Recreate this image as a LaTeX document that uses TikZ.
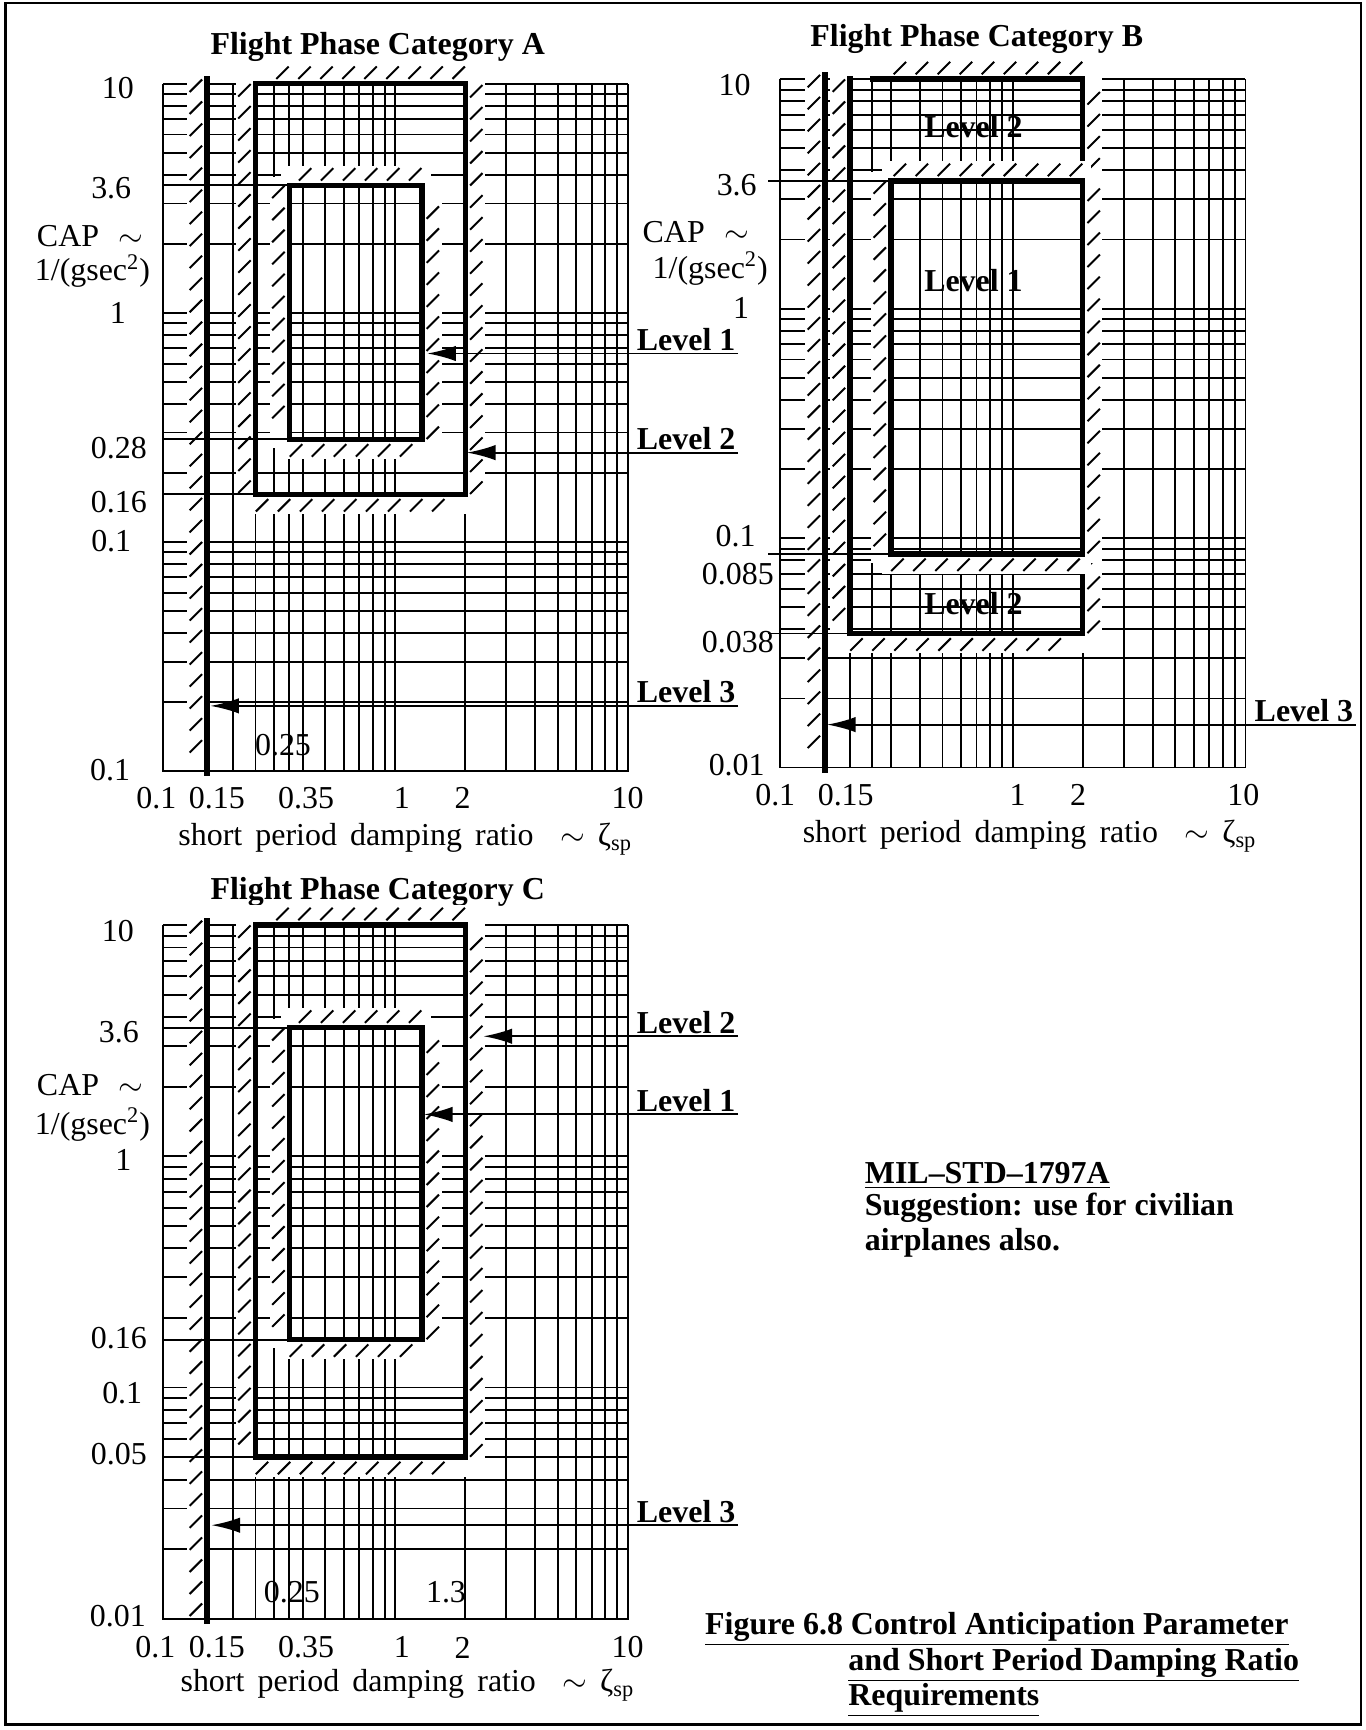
\documentclass[tikz,border=0pt]{standalone}
\usepackage{fontspec}
\setmainfont{Liberation Serif}
\usetikzlibrary{arrows.meta,decorations.markings}

% log axes: zeta from 0.1, CAP from 0.01, one unit per decade
\tikzset{
  declare function={zx(\z)=log10(\z)+1; cy(\c)=log10(\c)+2;},
  gridline/.style={line width=0.85pt},
  bound/.style={line width=2.5pt, line cap=rect},
  hatchmark/.style={line width=0.9pt},
  % white strip plus small slashes on one side of a boundary
  hatchside/.style 2 args={
    preaction={draw=white, line width=8pt, line cap=rect,
      transform canvas={xshift=#1, yshift=#2}},
    postaction={decorate, decoration={markings,
      mark=between positions 3pt and -3pt step 10pt with {
        \pgftransformresetnontranslations
        \draw[hatchmark] (#1,#2) ++(-2.5pt,-2.5pt) -- ++(5pt,5pt);}}}},
  hl/.style={hatchside={-5pt}{0pt}},
  hr/.style={hatchside={5pt}{0pt}},
  ha/.style={hatchside={0pt}{5pt}},
  hb/.style={hatchside={0pt}{-5pt}},
  lab/.style={font=\fontsize{14.5}{17}\selectfont, inner sep=1pt},
  ttl/.style={font=\fontsize{14.5}{17}\selectfont\bfseries, inner sep=1pt},
  lvl/.style={font=\fontsize{14.5}{17}\selectfont\bfseries, inner sep=1pt, anchor=south west},
  lvlarrow/.style={line width=0.9pt, -{Latex[length=13pt,width=7pt]}},
}

% graph paper of one chart, #1 = zeta values with a vertical line
\newcommand{\papergrid}[1]{%
  \foreach \k in {0,1,2}{
    \foreach \d in {1,...,9}{
      \draw[gridline] (0,{\k+log10(\d)}) -- (2,{\k+log10(\d)});
    }
  }
  \draw[gridline] (0,3) -- (2,3);
  \foreach \z in {#1}{
    \draw[gridline] ({zx(\z)},0) -- ({zx(\z)},3);
  }
}

% boundary box hatched on the outside: zeta lo, zeta hi, cap lo, cap hi
\newcommand{\levelbox}[4]{%
  \draw[bound,hl] ({#1},{#4}) -- ({#1},{#3});
  \draw[bound,hb] ({#1},{#3}) -- ({#2},{#3});
  \draw[bound,hr] ({#2},{#3}) -- ({#2},{#4});
  \draw[bound,ha] ({#2},{#4}) -- ({#1},{#4});
}

\newcommand{\xtitle}{\makebox[206pt][s]{short period damping ratio \ $\sim$\ ζ\textsubscript{sp}}}
\newcommand{\captitle}{CAP\hspace{9pt}$\sim$}
\newcommand{\capunit}{1/(gsec\textsuperscript{2})}

\begin{document}
\begin{tikzpicture}[x=0.5pt, y=-0.5pt]
\useasboundingbox (0,0) rectangle (1240,1571);
\draw[line width=1pt] (5,3) rectangle (1236,1566);

% ---------------- Flight Phase Category A ----------------
\node[ttl] (ttlA) at (343,43) {Flight Phase Category A};
\begin{scope}[shift={(148,700)}, x=105.5pt, y=104pt]
  \papergrid{0.1,0.2,0.25,0.3,0.35,0.4,0.5,0.6,0.7,0.8,0.9,1,2,3,4,5,6,7,8,9,10}
  % Level 3
  \draw[bound,hl] ({zx(0.153)},3.02) -- ({zx(0.153)},-0.01);
  % Level 2 and Level 1
  \levelbox{zx(0.25)}{zx(2)}{cy(0.16)}{3}
  \levelbox{zx(0.35)}{zx(1.3)}{cy(0.28)}{cy(3.6)}
  \foreach \c/\z in {3.6/0.35, 0.28/0.35, 0.16/0.25}
    \draw[gridline] (0,{cy(\c)}) -- ({zx(\z)},{cy(\c)});
  \draw[gridline] (0,3) -- (0,0) -- (2,0) -- (2,3);
\end{scope}
\foreach \lbl/\x/\y [count=\i] in {10/107/80, 3.6/101/171, 1/107/284, 0.28/108/407,
    0.16/108/456, 0.1/101/491, 0.1/100/699}
  \node[lab] (yA\i) at (\x,\y) {\lbl};
\foreach \lbl/\x [count=\i] in {0.1/142, 0.15/197, 0.35/278, 1/365, 2/420, 10/570}
  \node[lab] (xA\i) at (\x,725) {\lbl};
\node[lab] (capA) at (82,214) {\captitle};
\node[lab] (unitA) at (84,246) {\capunit};
\node[lab] (zA) at (257,677) {0.25};
\node[lab] (xlabA) at (368,762) {\xtitle};
\node[lvl] (lvA1) at (576,321) {Level 1};
\node[lvl] (lvA2) at (576,411) {Level 2};
\node[lvl] (lvA3) at (576,641) {Level 3};
\coordinate (tipA1) at (388,321);
\coordinate (tipA2) at (424,411);
\coordinate (tipA3) at (191,641);
\foreach \n in {1,2,3}
  \draw[lvlarrow] (lvA\n.south east) -- (lvA\n.south west) -- (tipA\n);

% ---------------- Flight Phase Category B ----------------
\node[ttl] (ttlB) at (887,35) {Flight Phase Category B};
\begin{scope}[shift={(708,697)}, x=105.75pt, y=104.2pt]
  \papergrid{0.1,0.2,0.25,0.3,0.4,0.5,0.6,0.7,0.8,0.9,1,2,3,4,5,6,7,8,9,10}
  % Level 3
  \draw[bound,hl] ({zx(0.155)},3.02) -- ({zx(0.155)},-0.01);
  % Level 2, open at the top left corner
  \draw[bound,hl] ({zx(0.2)},3) -- ({zx(0.2)},{cy(0.038)});
  \draw[bound,hb] ({zx(0.2)},{cy(0.038)}) -- ({zx(2)},{cy(0.038)});
  \draw[bound,hr] ({zx(2)},{cy(0.038)}) -- ({zx(2)},3);
  \draw[bound,ha] ({zx(2)},3) -- ({zx(0.25)},3);
  % Level 1
  \levelbox{zx(0.3)}{zx(2)}{cy(0.085)}{cy(3.6)}
  \foreach \c/\z in {3.6/0.3, 0.085/0.3, 0.038/0.2}
    \draw[gridline] (-0.05,{cy(\c)}) -- ({zx(\z)},{cy(\c)});
  \draw[gridline] (0,3) -- (0,0) -- (2,0) -- (2,3);
\end{scope}
\foreach \lbl/\x/\y [count=\i] in {10/667/77, 3.6/669/168, 1/673/280, 0.1/668/487,
    0.085/670/521, 0.038/670/583, 0.01/669/695}
  \node[lab] (yB\i) at (\x,\y) {\lbl};
\foreach \lbl/\x [count=\i] in {0.1/704, 0.15/768, 1/924, 2/979, 10/1129}
  \node[lab] (xB\i) at (\x,722) {\lbl};
\node[lab] (capB) at (632,211) {\captitle};
\node[lab] (unitB) at (645,244) {\capunit};
\node[lab] (xlabB) at (935,759) {\xtitle};
\node[ttl] (inB1) at (884,115) {Level 2};
\node[ttl] (inB2) at (884,255) {Level 1};
\node[ttl] (inB3) at (884,548) {Level 2};
\node[lvl] (lvB3) at (1137,658) {Level 3};
\coordinate (tipB3) at (751,658);
\draw[lvlarrow] (lvB3.south east) -- (lvB3.south west) -- (tipB3);

% ---------------- Flight Phase Category C ----------------
\node[ttl] (ttlC) at (343,810) {Flight Phase Category C};
\begin{scope}[shift={(148,1470)}, x=105.5pt, y=105pt]
  \papergrid{0.1,0.2,0.25,0.3,0.35,0.4,0.5,0.6,0.7,0.8,0.9,1,2,3,4,5,6,7,8,9,10}
  % Level 3
  \draw[bound,hl] ({zx(0.153)},3.02) -- ({zx(0.153)},-0.01);
  % Level 2 and Level 1
  \levelbox{zx(0.25)}{zx(2)}{cy(0.05)}{3}
  \levelbox{zx(0.35)}{zx(1.3)}{cy(0.16)}{cy(3.6)}
  \foreach \c/\z in {3.6/0.35, 0.16/0.35, 0.05/0.25}
    \draw[gridline] (0,{cy(\c)}) -- ({zx(\z)},{cy(\c)});
  \draw[gridline] (0,3) -- (0,0) -- (2,0) -- (2,3);
\end{scope}
\foreach \lbl/\x/\y [count=\i] in {10/107/845, 3.6/108/937, 1/112/1053, 0.16/108/1215,
    0.1/111/1265, 0.05/108/1320, 0.01/107/1468}
  \node[lab] (yC\i) at (\x,\y) {\lbl};
\foreach \lbl/\x [count=\i] in {0.1/141, 0.15/197, 0.35/278, 1/365, 2/420, 10/570}
  \node[lab] (xC\i) at (\x,1496) {\lbl};
\node[lab] (capC) at (82,985) {\captitle};
\node[lab] (unitC) at (84,1021) {\capunit};
\node[lab] (zC1) at (265,1446) {0.25};
\node[lab] (zC2) at (405,1446) {1.3};
\node[lab] (xlabC) at (370,1530) {\xtitle};
\node[lvl] (lvC2) at (576,941) {Level 2};
\node[lvl] (lvC1) at (576,1012) {Level 1};
\node[lvl] (lvC3) at (576,1385) {Level 3};
\coordinate (tipC2) at (439,941);
\coordinate (tipC1) at (385,1012);
\coordinate (tipC3) at (192,1385);
\foreach \n in {1,2,3}
  \draw[lvlarrow] (lvC\n.south east) -- (lvC\n.south west) -- (tipC\n);

% ---------------- notes ----------------
\node[ttl, anchor=base west] (mil) at (783,1075) {\underline{MIL–STD–1797A}};
\node[ttl, anchor=base west] (sug1) at (783,1104) {Suggestion: use for civilian};
\node[ttl, anchor=base west] (sug2) at (783,1136) {airplanes also.};
\node[ttl, anchor=base west] (fig1) at (638,1484) {\underline{Figure 6.8 Control Anticipation Parameter}};
\node[ttl, anchor=base west] (fig2) at (768,1517) {\underline{and Short Period Damping Ratio}};
\node[ttl, anchor=base west] (fig3) at (768,1549) {\underline{Requirements}};
\end{tikzpicture}
\end{document}
